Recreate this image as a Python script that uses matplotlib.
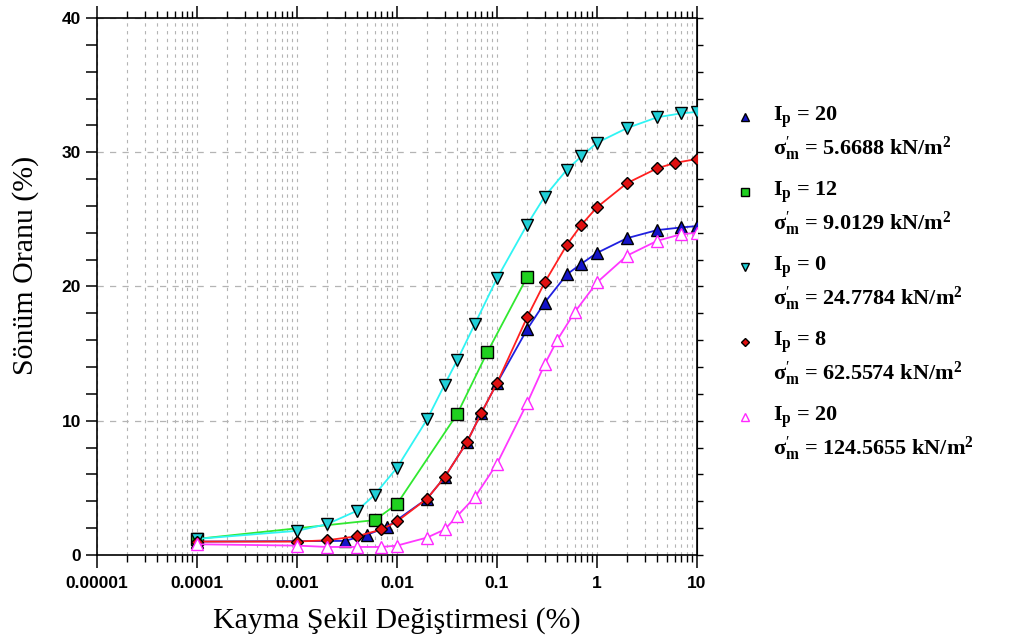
import numpy as np
import matplotlib
matplotlib.use('Agg')
import matplotlib.pyplot as plt
from matplotlib.ticker import LogLocator, NullFormatter, MultipleLocator
from matplotlib.lines import Line2D

plt.rcParams['mathtext.fontset'] = 'custom'
plt.rcParams['mathtext.rm'] = 'Liberation Serif'
plt.rcParams['mathtext.bf'] = 'Liberation Serif:bold'
plt.rcParams['mathtext.it'] = 'Liberation Serif:italic'

# --- data (shear strain %, damping ratio %) ---
blue_x = [0.0001, 0.003, 0.005, 0.008, 0.02, 0.03, 0.05, 0.07, 0.1, 0.2, 0.3, 0.5, 0.7, 1, 2, 4, 7, 10]
blue_y = [1.0, 1.05, 1.5, 2.1, 4.2, 5.8, 8.4, 10.6, 12.8, 16.8, 18.8, 20.9, 21.7, 22.5, 23.6, 24.2, 24.4, 24.5]

green_x = [0.0001, 0.006, 0.01, 0.04, 0.08, 0.2]
green_y = [1.2, 2.6, 3.8, 10.5, 15.1, 20.7]

cyan_x = [0.0001, 0.001, 0.002, 0.004, 0.006, 0.01, 0.02, 0.03, 0.04, 0.06, 0.1, 0.2, 0.3, 0.5, 0.7, 1, 2, 4, 7, 10]
cyan_y = [1.2, 1.8, 2.3, 3.3, 4.5, 6.5, 10.1, 12.7, 14.5, 17.2, 20.6, 24.6, 26.7, 28.7, 29.7, 30.7, 31.8, 32.6, 32.9, 33.0]

red_x = [0.0001, 0.001, 0.002, 0.004, 0.007, 0.01, 0.02, 0.03, 0.05, 0.07, 0.1, 0.2, 0.3, 0.5, 0.7, 1, 2, 4, 6, 10]
red_y = [1.0, 1.0, 1.1, 1.4, 1.9, 2.5, 4.2, 5.8, 8.4, 10.6, 12.8, 17.7, 20.3, 23.1, 24.6, 25.9, 27.7, 28.8, 29.2, 29.5]

pink_x = [0.0001, 0.001, 0.002, 0.004, 0.007, 0.01, 0.02, 0.03, 0.04, 0.06, 0.1, 0.2, 0.3, 0.4, 0.6, 1, 2, 4, 7, 10]
pink_y = [0.8, 0.7, 0.6, 0.6, 0.6, 0.7, 1.3, 1.9, 2.9, 4.3, 6.8, 11.3, 14.2, 16.0, 18.1, 20.3, 22.3, 23.4, 23.9, 24.0]

ip_labels = ['20', '12', '0', '8', '20']
sigma_labels = ['5.6688', '9.0129', '24.7784', '62.5574', '124.5655']

x_ticks = [0.00001, 0.0001, 0.001, 0.01, 0.1, 1, 10]
x_tick_labels = ['0.00001', '0.0001', '0.001', '0.01', '0.1', '1', '10']
y_ticks = [0, 10, 20, 30, 40]

series = [
    (blue_x, blue_y, dict(color='#2020e0', marker='^', mfc='#1414c8', mec='black', ms=8)),
    (green_x, green_y, dict(color='#30e830', marker='s', mfc='#20d020', mec='black', ms=8)),
    (cyan_x, cyan_y, dict(color='#30f4f4', marker='v', mfc='#20d0d8', mec='black', ms=8)),
    (red_x, red_y, dict(color='#ff2020', marker='D', mfc='#e01010', mec='black', ms=6)),
    (pink_x, pink_y, dict(color='#ff38ff', marker='^', mfc='white', mec='#ff28ff', ms=8)),
]

fig = plt.figure(figsize=(10.17, 6.42), dpi=100)
ax = fig.add_axes([0.0954, 0.1355, 0.5899, 0.8365])

for xs, ys, st in series:
    ax.plot(xs, ys, linewidth=1.3, mew=1.0, zorder=3, **st)

ax.set_xscale('log')
ax.set_xlim(0.00001, 10)
ax.set_ylim(0, 40)
ax.set_xticks(x_ticks, labels=x_tick_labels)
ax.xaxis.set_minor_locator(LogLocator(base=10, subs=np.arange(2, 10)))
ax.xaxis.set_minor_formatter(NullFormatter())
ax.set_yticks(y_ticks)
ax.yaxis.set_minor_locator(MultipleLocator(2))

ax.grid(which='both', axis='x', color='#b4b4b4', linestyle=(0, (3, 4)), linewidth=0.8)
ax.grid(which='major', axis='y', color='#b4b4b4', linestyle=(0, (5, 5)), linewidth=0.9)
ax.set_axisbelow(True)

for s in ax.spines.values():
    s.set_linewidth(1.2)

ax.tick_params(axis='x', which='major', direction='out', length=9, width=1.1, top=True)
ax.tick_params(axis='x', which='minor', direction='out', length=5, width=1.0, top=True)
ax.tick_params(axis='y', which='both', direction='out', length=8, width=1.1)

# short ticks on the right edge
right = ax.secondary_yaxis('right')
right.set_yticks(y_ticks, labels=[])
right.yaxis.set_minor_locator(MultipleLocator(2))
right.tick_params(which='both', direction='out', length=4, width=1.0)

for lab in ax.get_xticklabels() + ax.get_yticklabels():
    lab.set_fontfamily('Liberation Sans')
    lab.set_fontweight('bold')
    lab.set_fontsize(12.5)
ax.tick_params(axis='x', pad=6)

ax.set_xlabel('Kayma Şekil Değiştirmesi (%)', family='Liberation Serif', fontsize=21.5, labelpad=12)
ax.set_ylabel('Sönüm Oranu (%)', family='Liberation Serif', fontsize=21.5)
ax.yaxis.set_label_coords(-0.097, 0.54)

# legend drawn by hand so the marker sits on the first of two lines
for i, (xs, ys, st) in enumerate(series):
    y0 = 1 - (117 + 75 * i) / 642
    y1 = 1 - (149 + 75 * i) / 642
    fig.add_artist(Line2D([745 / 1017], [y0], transform=fig.transFigure, linestyle='none',
                          marker=st['marker'], mfc=st['mfc'], mec=st['mec'],
                          ms=st['ms'] * 0.75, mew=1.0))
    fig.text(773 / 1017, y0, r'$\mathbf{I_p}$ = ' + ip_labels[i], family='Liberation Serif',
             fontweight='bold', fontsize=16, va='center', ha='left')
    fig.text(773 / 1017, y1, r'σ$_\mathbf{m}^{\prime}$ = ' + sigma_labels[i] + r' kN/m$^\mathbf{2}$',
             family='Liberation Serif', fontweight='bold', fontsize=16, va='center', ha='left')

fig.savefig('out.png', dpi=100)
